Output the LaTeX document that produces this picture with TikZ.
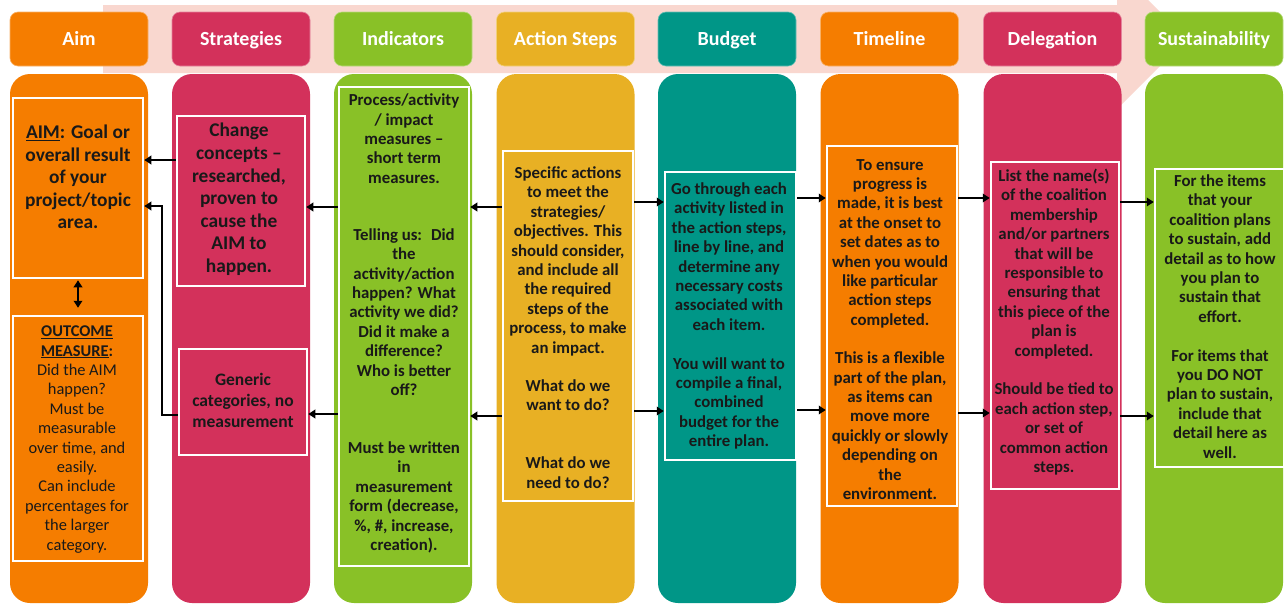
\documentclass[tikz,border=0pt]{standalone}
\usepackage{fontspec}
\setmainfont{Carlito}
\usetikzlibrary{arrows.meta}
\definecolor{cOr}{RGB}{245,125,0}
\definecolor{cCr}{RGB}{211,49,91}
\definecolor{cGr}{RGB}{137,193,39}
\definecolor{cGo}{RGB}{232,176,36}
\definecolor{cTe}{RGB}{0,150,135}
\definecolor{cPk}{RGB}{249,215,207}
\definecolor{cTx}{RGB}{25,25,25}
\tikzset{
 colbox/.style={fill=#1, rounded corners=20pt, minimum width=138pt, minimum height=529pt, inner sep=0pt, draw=none},
 hdr/.style={fill=#1, draw=#1!60!white, line width=0.6pt, rounded corners=8pt, minimum width=138pt, minimum height=54pt, inner sep=0pt, text height=15pt, text depth=2pt, text=white, font=\bfseries\fontsize{20}{24}\selectfont},
 ibox/.style={draw=white, line width=2.5pt, inner sep=0pt},
 txt/.style={align=center, inner sep=0pt, text=cTx, font=\bfseries\fontsize{16.8}{19.4}\selectfont},
 bigtxt/.style={font=\bfseries\fontsize{19.4}{22.6}\selectfont},
 arr/.style={line width=2.2pt, -{Triangle[length=7pt,width=8.5pt]}},
 darr/.style={line width=2.2pt, {Triangle[length=7pt,width=8.5pt]}-{Triangle[length=7pt,width=8.5pt]}},
}
\begin{document}
\begin{tikzpicture}[x=1pt,y=-1pt]
\clip (0,0) rectangle (1286,603);
\fill[white] (0,0) rectangle (1286,603);
% background arrow
\fill[cPk] (103,5) -- (1117,5) -- (1117,-31) -- (1187,39) -- (1117,109) -- (1117,73) -- (103,73) -- cycle;
% columns
\node[colbox=cOr] (cAim) at (79,338.5) {};
\node[colbox=cCr] (cStr) at (241,338.5) {};
\node[colbox=cGr] (cInd) at (403,338.5) {};
\node[colbox=cGo] (cAct) at (565.5,338.5) {};
\node[colbox=cTe] (cBud) at (727,338.5) {};
\node[colbox=cOr] (cTim) at (889.5,338.5) {};
\node[colbox=cCr] (cDel) at (1052.5,338.5) {};
\node[colbox=cGr] (cSus) at (1214,338.5) {};
% headers
\node[hdr=cOr] (hAim) at (79,39) {Aim};
\node[hdr=cCr] (hStr) at (241,39) {Strategies};
\node[hdr=cGr] (hInd) at (403,39) {Indicators};
\node[hdr=cGo] (hAct) at (565.5,39) {Action Steps};
\node[hdr=cTe] (hBud) at (727,39) {Budget};
\node[hdr=cOr] (hTim) at (889.5,39) {Timeline};
\node[hdr=cCr] (hDel) at (1052.5,39) {Delegation};
\node[hdr=cGr] (hSus) at (1214,39) {Sustainability};
% inner boxes
\node[ibox, minimum width=130pt, minimum height=180pt] (aim) at (78,188) {};
\node[ibox, minimum width=130pt, minimum height=245pt] (out) at (78,438.5) {};
\node[ibox, minimum width=128pt, minimum height=170pt] (chg) at (241,201) {};
\node[ibox, minimum width=128pt, minimum height=106pt] (gen) at (243,402) {};
\node[ibox, minimum width=130pt, minimum height=479pt] (ind) at (404,326.5) {};
\node[ibox, minimum width=130pt, minimum height=350pt] (act) at (568,326) {};
\node[ibox, minimum width=131pt, minimum height=288pt] (bud) at (730.5,316) {};
\node[ibox, minimum width=130pt, minimum height=360pt] (tim) at (892,326) {};
\node[ibox, minimum width=128pt, minimum height=327pt] (del) at (1055,325.5) {};
\node[ibox, minimum width=129pt, minimum height=298pt] (sus) at (1219.5,318) {};
% texts
\node[txt, bigtxt] (aimT) at (78,177) {\underline{AIM}: Goal or\\overall result\\of your\\project/topic\\area.};
\node[txt, font=\fontsize{16.4}{19.4}\selectfont] (outT) at (77,439.5) {\textbf{\underline{OUTCOME}}\\\textbf{\underline{MEASURE}:}\\Did the AIM\\happen?\\Must be\\measurable\\over time, and\\easily.\\Can include\\percentages for\\the larger\\category.};
\node[txt, bigtxt] (chgT) at (239,199.5) {Change\\concepts –\\researched,\\proven to\\cause the\\AIM to\\happen.};
\node[txt, font=\bfseries\fontsize{17.5}{21}\selectfont] (genT) at (243,400) {Generic\\categories, no\\measurement};
\node[txt] (indT) at (404,323.5) {Process/activity\\/ impact\\measures –\\short term\\measures.\\[37.6pt]Telling us:~ Did\\the\\activity/action\\happen? What\\activity we did?\\Did it make a\\difference?\\Who is better\\off?\\[38.6pt]Must be written\\in\\measurement\\form (decrease,\\\%, \#, increase,\\creation).};
\node[txt] (actT) at (568,327.5) {Specific actions\\to meet the\\strategies/\\objectives. This\\should consider,\\and include all\\the required\\steps of the\\process, to make\\an impact.\\[19pt]What do we\\want to do?\\[38.6pt]What do we\\need to do?};
\node[txt] (budT) at (729,316) {Go through each\\activity listed in\\the action steps,\\line by line, and\\determine any\\necessary costs\\associated with\\each item.\\[19.4pt]You will want to\\compile a final,\\combined\\budget for the\\entire plan.};
\node[txt] (timT) at (890,329.5) {To ensure\\progress is\\made, it is best\\at the onset to\\set dates as to\\when you would\\like particular\\action steps\\completed.\\[19pt]This is a flexible\\part of the plan,\\as items can\\move more\\quickly or slowly\\depending on\\the\\environment.};
\node[txt] (delT) at (1054,322) {List the name(s)\\of the coalition\\membership\\and/or partners\\that will be\\responsible to\\ensuring that\\this piece of the\\plan is\\completed.\\[19.4pt]Should be tied to\\each action step,\\or set of\\common action\\steps.};
\node[txt] (susT) at (1220,316.5) {For the items\\that your\\coalition plans\\to sustain, add\\detail as to how\\you plan to\\sustain that\\effort.\\[19.4pt]For items that\\you DO NOT\\plan to sustain,\\include that\\detail here as\\well.};
% connectors
\draw[darr] ([yshift=-1pt]aim.south) -- ([yshift=7pt]out.north);
\draw[arr] (chg.west |- 0,160) -- (aim.east |- 0,160);
\coordinate (bend) at (162,206);
\draw[arr] (gen.west |- 0,415) -| (bend) -- (aim.east |- bend);
\draw[arr] (ind.west |- 0,207) -- (chg.east |- 0,207);
\draw[arr] (ind.west |- 0,414) -- (gen.east |- 0,414);
\draw[arr] (act.west |- 0,207) -- (ind.east |- 0,207);
\draw[arr] (act.west |- 0,416) -- (ind.east |- 0,416);
\draw[arr] (act.east |- 0,202) -- (bud.west |- 0,202);
\draw[arr] (act.east |- 0,411) -- (bud.west |- 0,411);
\draw[arr] (bud.east |- 0,198) -- (tim.west |- 0,198);
\draw[arr] (bud.east |- 0,410) -- (tim.west |- 0,410);
\draw[arr] (tim.east |- 0,198) -- (del.west |- 0,198);
\draw[arr] (tim.east |- 0,413) -- (del.west |- 0,413);
\draw[arr] (del.east |- 0,202) -- (sus.west |- 0,202);
\draw[arr] (del.east |- 0,416) -- (sus.west |- 0,416);
\end{tikzpicture}
\end{document}
